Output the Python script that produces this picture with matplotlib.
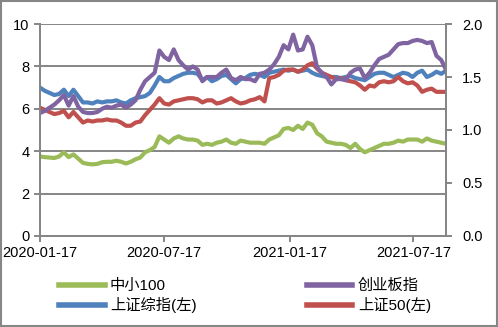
import matplotlib
matplotlib.use("Agg")
import matplotlib.pyplot as plt
import matplotlib.dates as mdates
from matplotlib.patches import Rectangle
import pandas as pd

plt.rcParams['font.family'] = ['Liberation Sans', 'Noto Sans CJK SC', 'DejaVu Sans']

# weekly valuation series
start_date = '2020-01-17'
tick_dates = ['2020-01-17', '2020-07-17', '2021-01-17', '2021-07-17']

# left axis
sh_composite = [7.0, 6.85, 6.75, 6.65, 6.7, 6.9, 6.6, 6.9, 6.6, 6.3,
                6.3, 6.25, 6.35, 6.3, 6.35, 6.35, 6.4, 6.3, 6.25, 6.4,
                6.5, 6.55, 6.6, 6.75, 7.1, 7.5, 7.3, 7.3, 7.45, 7.55,
                7.65, 7.7, 7.7, 7.65, 7.35, 7.5, 7.3, 7.4, 7.55, 7.6,
                7.4, 7.2, 7.4, 7.45, 7.6, 7.65, 7.6, 7.5, 7.7, 7.75,
                7.8, 7.85, 7.8, 7.85, 7.75, 7.8, 7.85, 7.7, 7.6, 7.55,
                7.5, 7.5, 7.5, 7.45, 7.5, 7.55, 7.45, 7.4, 7.35, 7.5,
                7.65, 7.7, 7.7, 7.6, 7.5, 7.6, 7.7, 7.65, 7.5, 7.7,
                7.8, 7.5, 7.6, 7.75, 7.65, 7.8]
sh50 = [6.05, 5.95, 5.85, 5.75, 5.8, 5.9, 5.6, 5.85, 5.6, 5.35,
        5.45, 5.4, 5.45, 5.45, 5.5, 5.45, 5.45, 5.35, 5.2, 5.2,
        5.35, 5.4, 5.7, 5.95, 6.2, 6.5, 6.25, 6.2, 6.35, 6.4,
        6.45, 6.5, 6.5, 6.45, 6.3, 6.4, 6.4, 6.25, 6.3, 6.4,
        6.5, 6.35, 6.25, 6.3, 6.4, 6.45, 6.55, 6.35, 7.45, 7.5,
        7.6, 7.8, 7.85, 7.85, 7.75, 7.85, 8.05, 8.15, 7.9, 7.7,
        7.6, 7.5, 7.4, 7.45, 7.35, 7.3, 7.25, 7.1, 6.9, 7.1,
        7.05, 7.25, 7.3, 7.25, 7.3, 7.5, 7.3, 7.2, 7.25, 7.1,
        6.8, 6.9, 6.95, 6.8, 6.8, 6.8]

# right axis
sme100 = [0.75, 0.744, 0.74, 0.736, 0.75, 0.79, 0.744, 0.77, 0.73, 0.69,
          0.68, 0.676, 0.68, 0.696, 0.70, 0.70, 0.71, 0.70, 0.684, 0.70,
          0.724, 0.74, 0.79, 0.81, 0.84, 0.94, 0.91, 0.88, 0.92, 0.94,
          0.92, 0.91, 0.91, 0.90, 0.86, 0.87, 0.86, 0.88, 0.89, 0.91,
          0.88, 0.87, 0.90, 0.89, 0.88, 0.88, 0.88, 0.87, 0.91, 0.93,
          0.95, 1.01, 1.02, 1.00, 1.04, 1.01, 1.07, 1.05, 0.97, 0.94,
          0.89, 0.88, 0.87, 0.87, 0.86, 0.83, 0.87, 0.82, 0.79, 0.81,
          0.83, 0.85, 0.87, 0.87, 0.88, 0.90, 0.89, 0.91, 0.91, 0.91,
          0.89, 0.92, 0.90, 0.89, 0.88, 0.87]
chinext = [1.16, 1.18, 1.21, 1.24, 1.28, 1.33, 1.23, 1.32, 1.22, 1.17,
           1.16, 1.16, 1.17, 1.20, 1.22, 1.21, 1.23, 1.24, 1.21, 1.24,
           1.28, 1.38, 1.46, 1.50, 1.54, 1.75, 1.69, 1.66, 1.76, 1.66,
           1.61, 1.57, 1.60, 1.57, 1.46, 1.50, 1.50, 1.50, 1.54, 1.57,
           1.49, 1.47, 1.50, 1.48, 1.48, 1.46, 1.53, 1.54, 1.57, 1.62,
           1.69, 1.80, 1.76, 1.90, 1.75, 1.76, 1.88, 1.80, 1.59, 1.54,
           1.50, 1.43, 1.48, 1.48, 1.47, 1.54, 1.57, 1.58, 1.49, 1.54,
           1.61, 1.67, 1.69, 1.71, 1.76, 1.81, 1.82, 1.82, 1.84, 1.85,
           1.84, 1.82, 1.83, 1.70, 1.66, 1.57]

dates = pd.date_range(start_date, periods=len(sh50), freq='7D')

c_green = '#9BBB59'
c_purple = '#8064A2'
c_blue = '#4F81BD'
c_red = '#C0504D'
c_axis = '#868686'
lw = 3.0

fig = plt.figure(figsize=(4.98, 3.27), dpi=100)
ax = fig.add_axes([0.0803, 0.2783, 0.8153, 0.6483])
ax2 = ax.twinx()

l_blue, = ax.plot(dates, sh_composite, color=c_blue, lw=lw, label='上证综指(左)')
l_red, = ax.plot(dates, sh50, color=c_red, lw=lw, label='上证50(左)')
l_green, = ax2.plot(dates, sme100, color=c_green, lw=lw, label='中小100')
l_purple, = ax2.plot(dates, chinext, color=c_purple, lw=lw, label='创业板指')

ax.set_ylim(0, 10)
ax.set_yticks([0, 2, 4, 6, 8, 10])
ax2.set_ylim(0, 2.0)
ax2.set_yticks([0, 0.5, 1.0, 1.5, 2.0])
ax2.set_yticklabels(['0.0', '0.5', '1.0', '1.5', '2.0'])
ax.set_xlim(dates[0], dates[-1])
ax.set_xticks(pd.to_datetime(tick_dates))
ax.xaxis.set_major_formatter(mdates.DateFormatter('%Y-%m-%d'))

ax.grid(axis='y', color=c_axis, lw=1.4)
ax.set_axisbelow(True)
for a in (ax, ax2):
    a.spines['top'].set_visible(False)
    for s in ('left', 'right', 'bottom'):
        a.spines[s].set_color(c_axis)
        a.spines[s].set_linewidth(1.4)
    a.tick_params(length=4.5, width=1.4, color=c_axis, labelsize=10.5,
                  labelcolor='black')
ax.tick_params(axis='y', pad=3)
ax.tick_params(axis='x', pad=3)
ax2.tick_params(axis='y', pad=7)

handles = [l_green, l_blue, l_purple, l_red]
fig.legend(handles=handles, labels=[h.get_label() for h in handles],
           ncol=2, loc='upper left', bbox_to_anchor=(0.118, 0.148),
           frameon=False, fontsize=11, handlelength=3.0, handletextpad=0.35,
           columnspacing=7.2, labelspacing=0.3, borderaxespad=0,
           borderpad=0)
for line in fig.legends[0].get_lines():
    line.set_linewidth(4.0)

fig.patches.append(Rectangle((0.002, 0.003), 0.995, 0.994, transform=fig.transFigure,
                             fill=False, edgecolor=c_axis, lw=1.5))

fig.savefig('out.png', dpi=100)
